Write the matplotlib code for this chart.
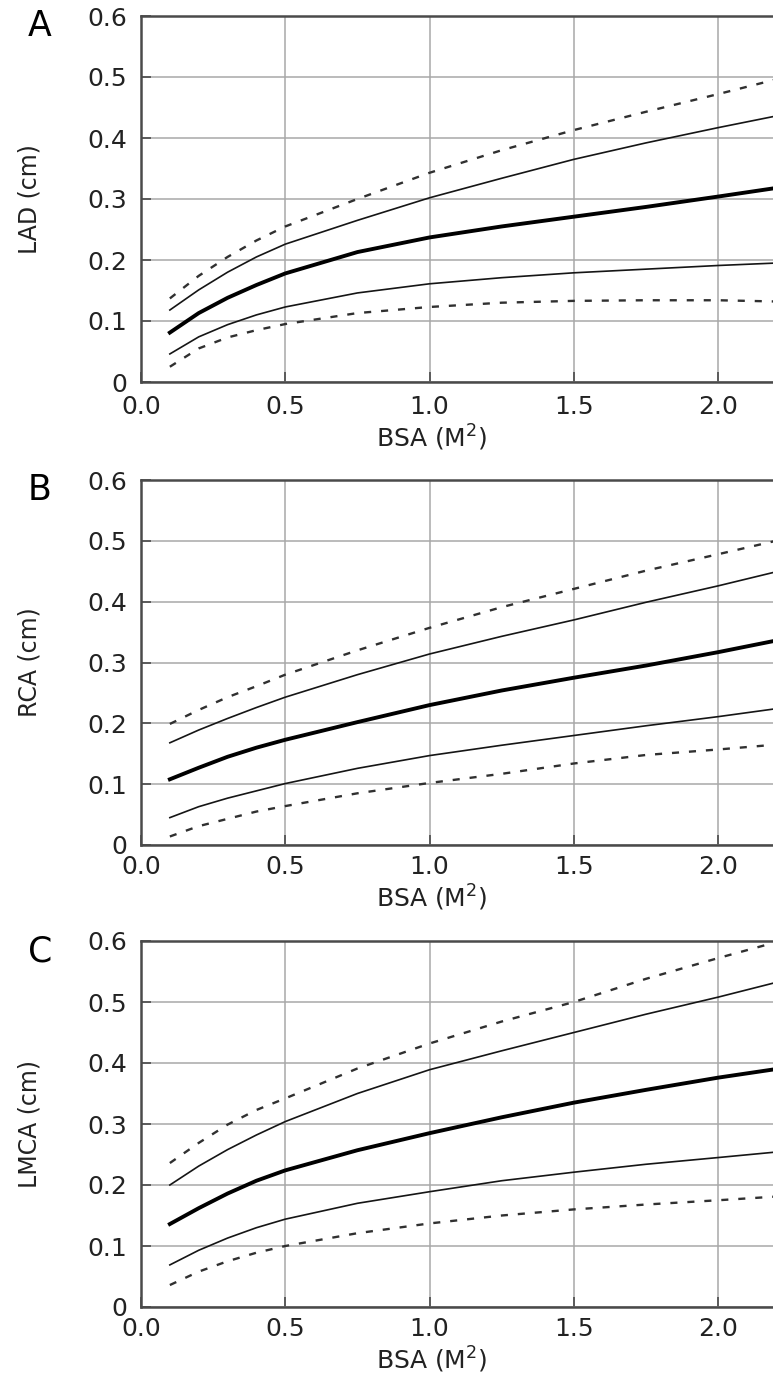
import matplotlib
matplotlib.use("Agg")
import matplotlib.pyplot as plt

plt.rcParams["font.family"] = ["DejaVu Sans"]
plt.rcParams["mathtext.fontset"] = "dejavusans"

# BSA (m^2) sample points
bsa = [0.1, 0.2, 0.3, 0.4, 0.5, 0.75, 1.0, 1.25, 1.5, 1.75, 2.0, 2.2]

# A: LAD
lad_plus2 = [0.137, 0.174, 0.205, 0.232, 0.255, 0.300, 0.343, 0.380, 0.413, 0.443, 0.472, 0.496]
lad_plus1 = [0.118, 0.151, 0.180, 0.205, 0.226, 0.265, 0.302, 0.334, 0.365, 0.392, 0.417, 0.436]
lad_mean = [0.081, 0.113, 0.138, 0.159, 0.178, 0.213, 0.237, 0.255, 0.271, 0.287, 0.304, 0.318]
lad_minus1 = [0.046, 0.074, 0.094, 0.110, 0.123, 0.146, 0.161, 0.171, 0.179, 0.185, 0.191, 0.195]
lad_minus2 = [0.025, 0.055, 0.073, 0.085, 0.095, 0.113, 0.123, 0.130, 0.133, 0.134, 0.134, 0.132]

# B: RCA
rca_plus2 = [0.199, 0.222, 0.243, 0.261, 0.280, 0.320, 0.357, 0.391, 0.421, 0.451, 0.478, 0.500]
rca_plus1 = [0.168, 0.189, 0.208, 0.226, 0.243, 0.280, 0.314, 0.343, 0.370, 0.399, 0.426, 0.449]
rca_mean = [0.108, 0.127, 0.145, 0.160, 0.173, 0.202, 0.230, 0.254, 0.275, 0.295, 0.317, 0.336]
rca_minus1 = [0.045, 0.063, 0.077, 0.089, 0.101, 0.126, 0.147, 0.164, 0.180, 0.196, 0.211, 0.224]
rca_minus2 = [0.014, 0.031, 0.043, 0.055, 0.064, 0.085, 0.102, 0.117, 0.134, 0.148, 0.157, 0.165]

# C: LMCA
lmca_plus2 = [0.236, 0.269, 0.299, 0.323, 0.342, 0.391, 0.432, 0.468, 0.500, 0.538, 0.572, 0.598]
lmca_plus1 = [0.200, 0.231, 0.258, 0.282, 0.304, 0.350, 0.389, 0.420, 0.450, 0.480, 0.508, 0.532]
lmca_mean = [0.136, 0.162, 0.186, 0.207, 0.224, 0.257, 0.285, 0.311, 0.335, 0.356, 0.376, 0.390]
lmca_minus1 = [0.069, 0.093, 0.113, 0.130, 0.144, 0.170, 0.189, 0.207, 0.221, 0.234, 0.245, 0.254]
lmca_minus2 = [0.036, 0.058, 0.075, 0.089, 0.100, 0.121, 0.137, 0.150, 0.160, 0.168, 0.175, 0.181]

panel_letters = ["A", "B", "C"]
y_labels = ["LAD (cm)", "RCA (cm)", "LMCA (cm)"]
y_ticks = [0, 0.1, 0.2, 0.3, 0.4, 0.5, 0.6]
y_tick_labels = ["0", "0.1", "0.2", "0.3", "0.4", "0.5", "0.6"]
x_ticks = [0.0, 0.5, 1.0, 1.5, 2.0]
x_tick_labels = ["0.0", "0.5", "1.0", "1.5", "2.0"]

series = [
    (lad_plus2, lad_plus1, lad_mean, lad_minus1, lad_minus2),
    (rca_plus2, rca_plus1, rca_mean, rca_minus1, rca_minus2),
    (lmca_plus2, lmca_plus1, lmca_mean, lmca_minus1, lmca_minus2),
]

W, H = 773, 1380
fig = plt.figure(figsize=(W / 100, H / 100), dpi=100)

# axes boxes in pixels: (top, bottom)
boxes = [(16, 382), (480, 845), (941, 1307)]
left_px = 141
tick_pads = [9.0, 7.0, 7.5]
xlabel_y = [-0.112, -0.104, -0.104]

axis_col = "#4a4a4a"
grid_col = "#a8a8a8"
line_col = "#151515"
dash_col = "#303030"
text_col = "#222222"

for i, (top, bot) in enumerate(boxes):
    ax = fig.add_axes([left_px / W, (H - bot) / H, (W - left_px) / W, (bot - top) / H])
    p2, p1, mean, m1, m2 = series[i]

    ax.plot(bsa, p2, color=dash_col, lw=1.7, dashes=(3.0, 4.2), zorder=3)
    ax.plot(bsa, m2, color=dash_col, lw=1.7, dashes=(3.0, 4.2), zorder=3)
    ax.plot(bsa, p1, color=line_col, lw=1.2, zorder=3)
    ax.plot(bsa, m1, color=line_col, lw=1.2, zorder=3)
    ax.plot(bsa, mean, color="black", lw=2.8, zorder=4)

    ax.set_xlim(0, 2.19)
    ax.set_ylim(0, 0.6)
    ax.set_xticks(x_ticks)
    ax.set_xticklabels(x_tick_labels)
    ax.set_yticks(y_ticks)
    ax.set_yticklabels(y_tick_labels)
    ax.grid(True, color=grid_col, lw=1.1)
    ax.set_axisbelow(True)

    for side in ["left", "bottom", "top"]:
        ax.spines[side].set_color(axis_col)
        ax.spines[side].set_linewidth(1.8)
    ax.spines["right"].set_visible(False)

    ax.tick_params(axis="y", direction="in", length=7, width=1.2, color=axis_col,
                   labelsize=18, labelcolor=text_col, pad=10)
    ax.tick_params(axis="x", direction="in", length=7, width=1.2, color=axis_col,
                   labelsize=18, labelcolor=text_col, pad=tick_pads[i])

    ax.set_xlabel("BSA (M$^2$)", fontsize=18, color=text_col)
    ax.xaxis.set_label_coords(0.459, xlabel_y[i])
    ax.set_ylabel(y_labels[i], fontsize=17, color=text_col)
    ax.yaxis.set_label_coords(-0.157, 0.5)

    ax.text(-0.16, 0.972, panel_letters[i], transform=ax.transAxes, fontsize=25,
            ha="center", va="center", color="black")

fig.savefig("out.png", dpi=100)
